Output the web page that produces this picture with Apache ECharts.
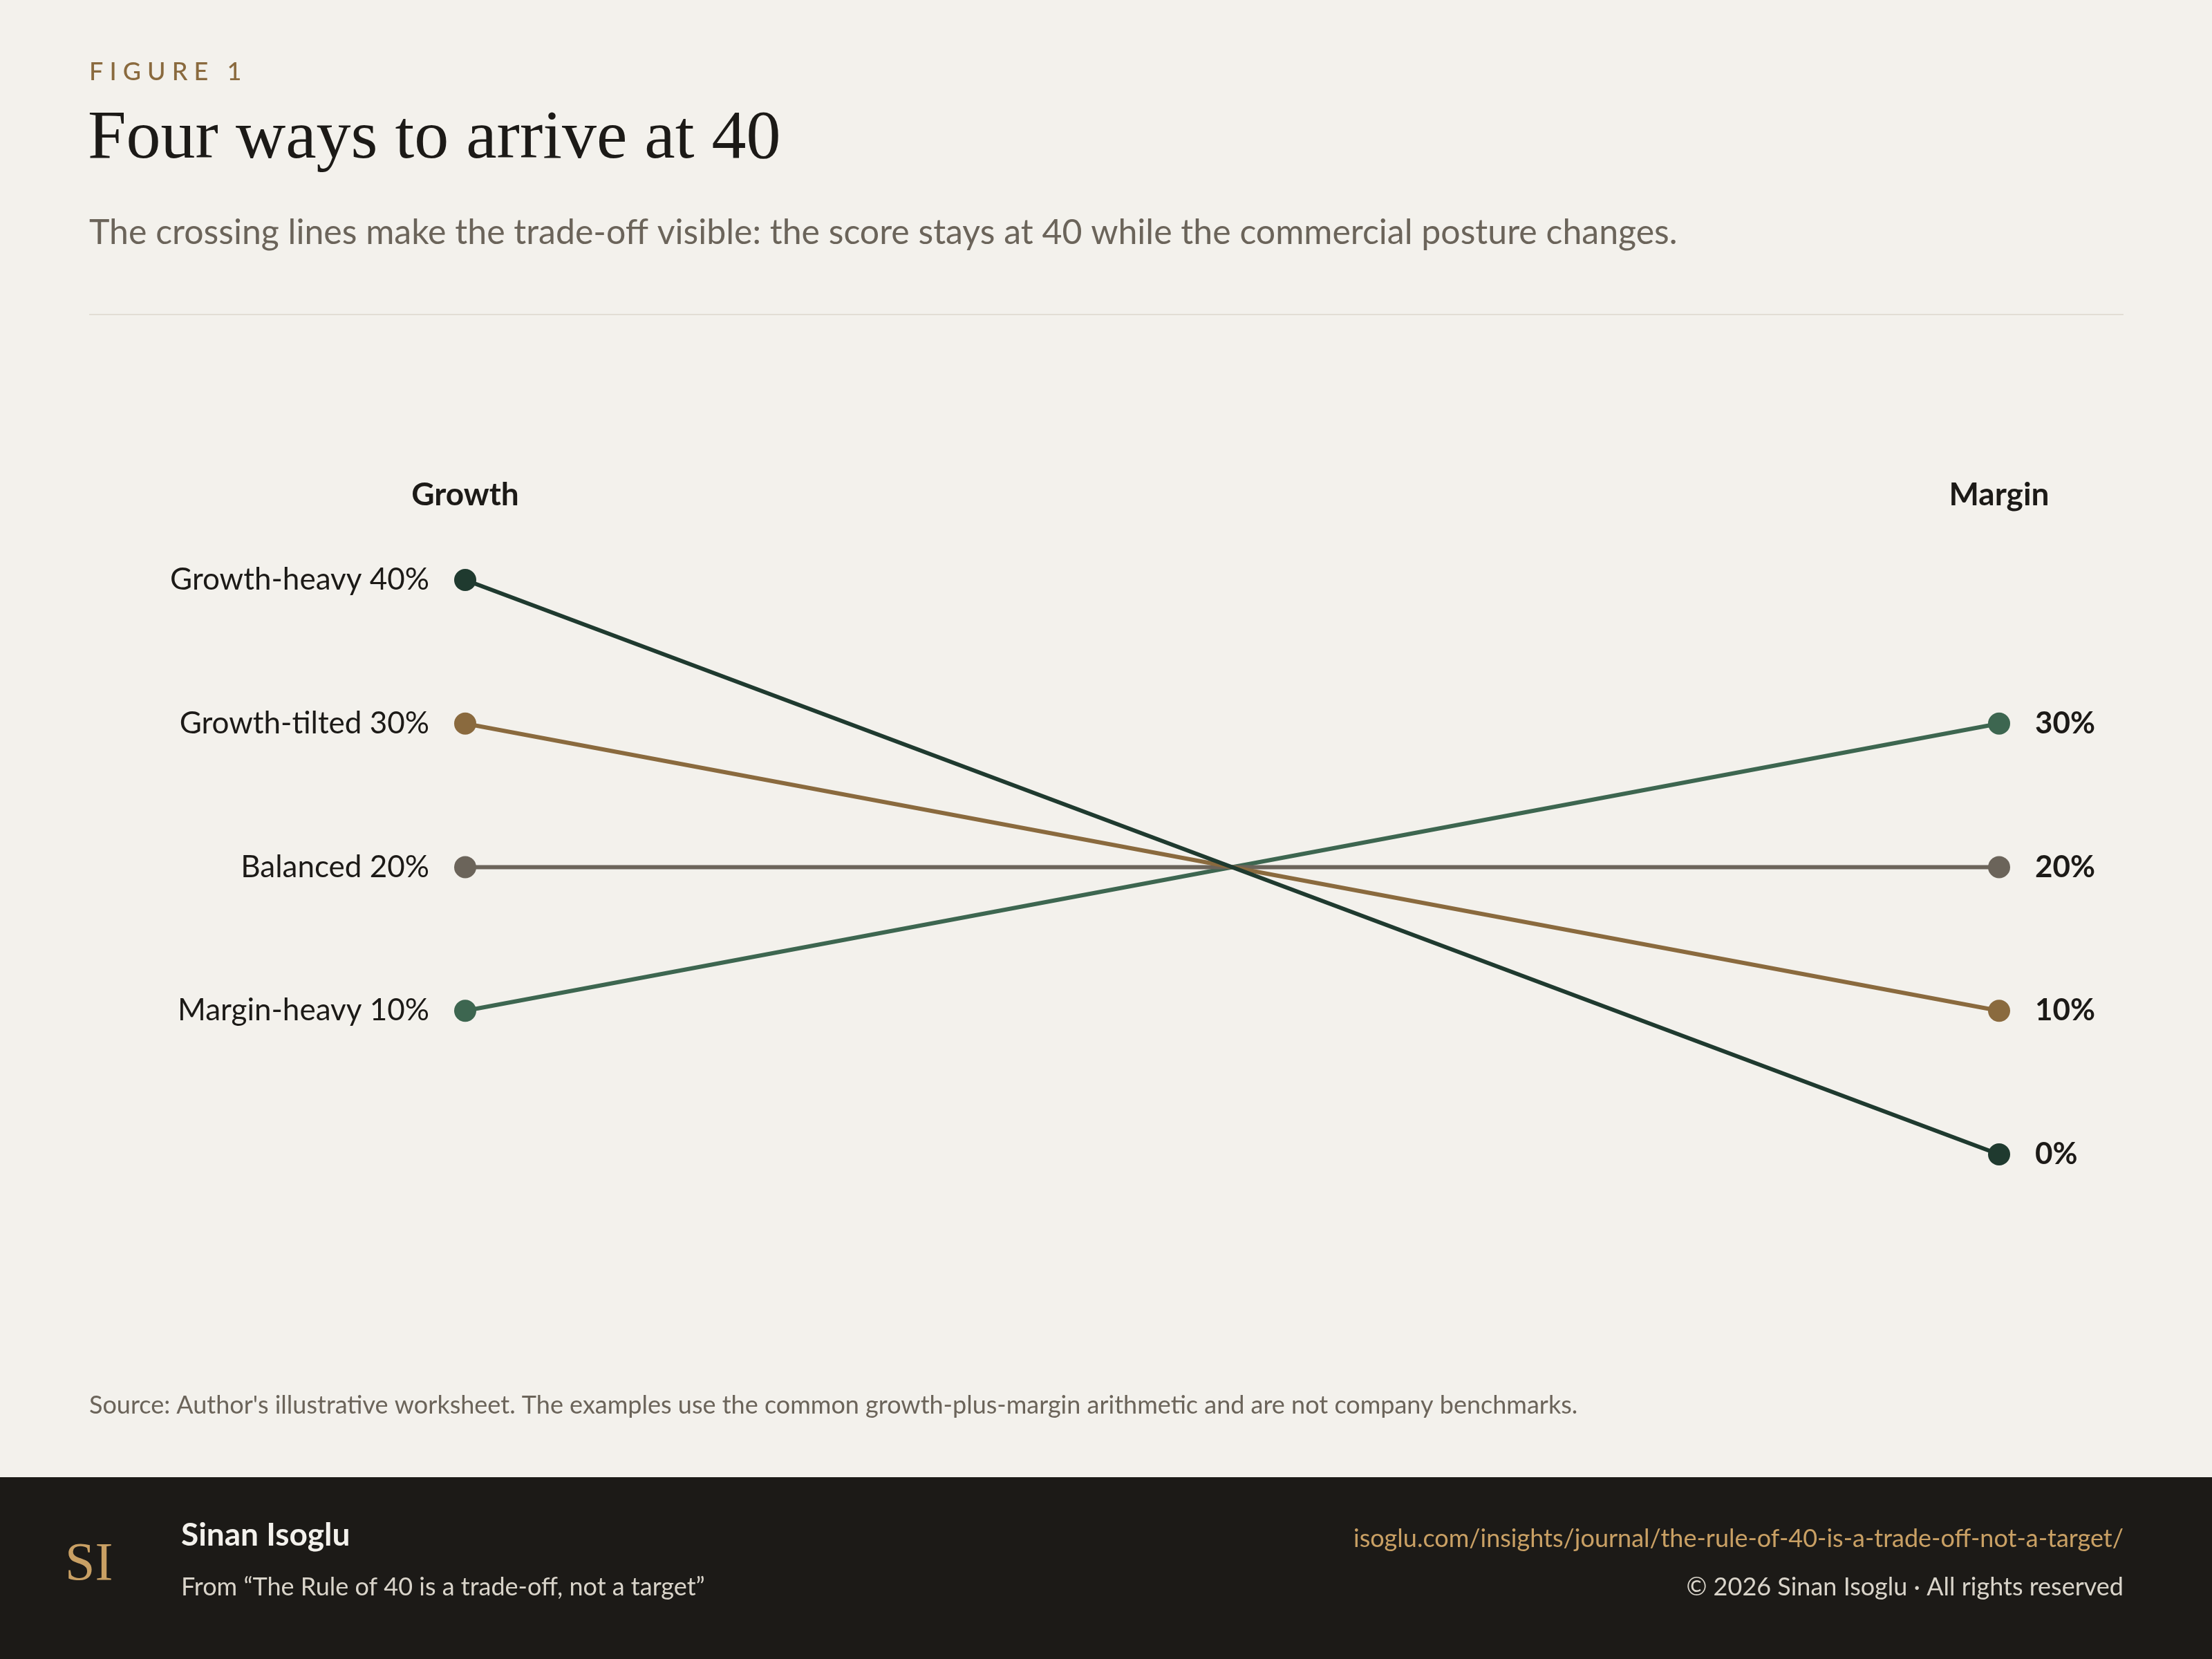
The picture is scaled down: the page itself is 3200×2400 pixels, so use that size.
<!DOCTYPE html>
<html><head><meta charset="utf-8">
<script src="https://cdn.jsdelivr.net/npm/echarts@6/dist/echarts.min.js"></script>
<style>html,body{margin:0;padding:0;background:#f3f1ec}#c{width:3200px;height:2400px}</style>
</head><body><div id="c"></div>
<script>
const axes = ['Growth', 'Margin'];
const names = ['Growth-heavy', 'Growth-tilted', 'Balanced', 'Margin-heavy'];
const growth = [40, 30, 20, 10];
const margin = [0, 10, 20, 30];
const colors = ['#1f3a2f', '#8a6a3e', '#6b645a', '#3d6650'];

const SANS = 'Lato, "Noto Sans", sans-serif';
const chart = echarts.init(document.getElementById('c'));
const series = names.map((n, i) => ({
  type: 'line', name: n, data: [growth[i], margin[i]],
  symbol: 'circle', symbolSize: 32, z: 10 - i,
  lineStyle: { width: 6, color: colors[i] },
  itemStyle: { color: colors[i] },
  label: {
    show: true, fontFamily: SANS, fontSize: 44, color: '#1c1a17',
    formatter: p => p.dataIndex === 0 ? n + ' ' + p.value + '%' : p.value + '%'
  },
  labelLayout: null,
  data: [
    { value: growth[i], label: { position: 'left', distance: 36 } },
    { value: margin[i], label: { position: 'right', distance: 36, fontWeight: 'bold' } }
  ]
}));
chart.setOption({
  backgroundColor: '#f3f1ec',
  animation: false,
  grid: { left: 673, right: 308, top: 839, bottom: 730 },
  xAxis: {
    type: 'category', data: axes, boundaryGap: false, position: 'top',
    axisLine: { show: false }, axisTick: { show: false }, splitLine: { show: false },
    axisLabel: { margin: 100, fontFamily: SANS, fontSize: 46, fontWeight: 'bold', color: '#1c1a17' }
  },
  yAxis: { type: 'value', min: 0, max: 40, show: false },
  series: series,
  graphic: [
    { type: 'text', left: 129, top: 86, style: { text: 'F I G U R E   1', font: '500 36px ' + SANS, fill: '#8a6a3e' } },
    { type: 'text', left: 127, top: 152, style: { text: 'Four ways to arrive at 40', font: '100px "Liberation Serif", serif', fill: '#1c1a17' } },
    { type: 'text', left: 129, top: 312, style: { text: 'The crossing lines make the trade-off visible: the score stays at 40 while the commercial posture changes.', font: '50px ' + SANS, fill: '#6b645a' } },
    { type: 'rect', shape: { x: 129, y: 454, width: 2943, height: 2 }, style: { fill: '#e2ddd4' } },
    { type: 'text', left: 129, top: 2015, style: { text: "Source: Author's illustrative worksheet. The examples use the common growth-plus-margin arithmetic and are not company benchmarks.", font: '36px ' + SANS, fill: '#6b645a' } },
    { type: 'rect', shape: { x: 0, y: 2137, width: 3200, height: 263 }, style: { fill: '#1c1a17' } },
    { type: 'text', left: 94, top: 2226, style: { text: 'SI', font: '78px "Liberation Serif", serif', fill: '#c9a064' } },
    { type: 'text', left: 262, top: 2198, style: { text: 'Sinan Isoglu', font: 'bold 46px ' + SANS, fill: '#f3f1ec' } },
    { type: 'text', left: 262, top: 2278, style: { text: 'From \u201cThe Rule of 40 is a trade-off, not a target\u201d', font: '36px ' + SANS, fill: '#d9d4ca' } },
    { type: 'text', right: 128, top: 2208, style: { text: 'isoglu.com/insights/journal/the-rule-of-40-is-a-trade-off-not-a-target/', font: '36px ' + SANS, fill: '#c9a064' } },
    { type: 'text', right: 128, top: 2278, style: { text: '\u00a9 2026 Sinan Isoglu \u00b7 All rights reserved', font: '36px ' + SANS, fill: '#d9d4ca' } }
  ]
});
</script></body></html>
